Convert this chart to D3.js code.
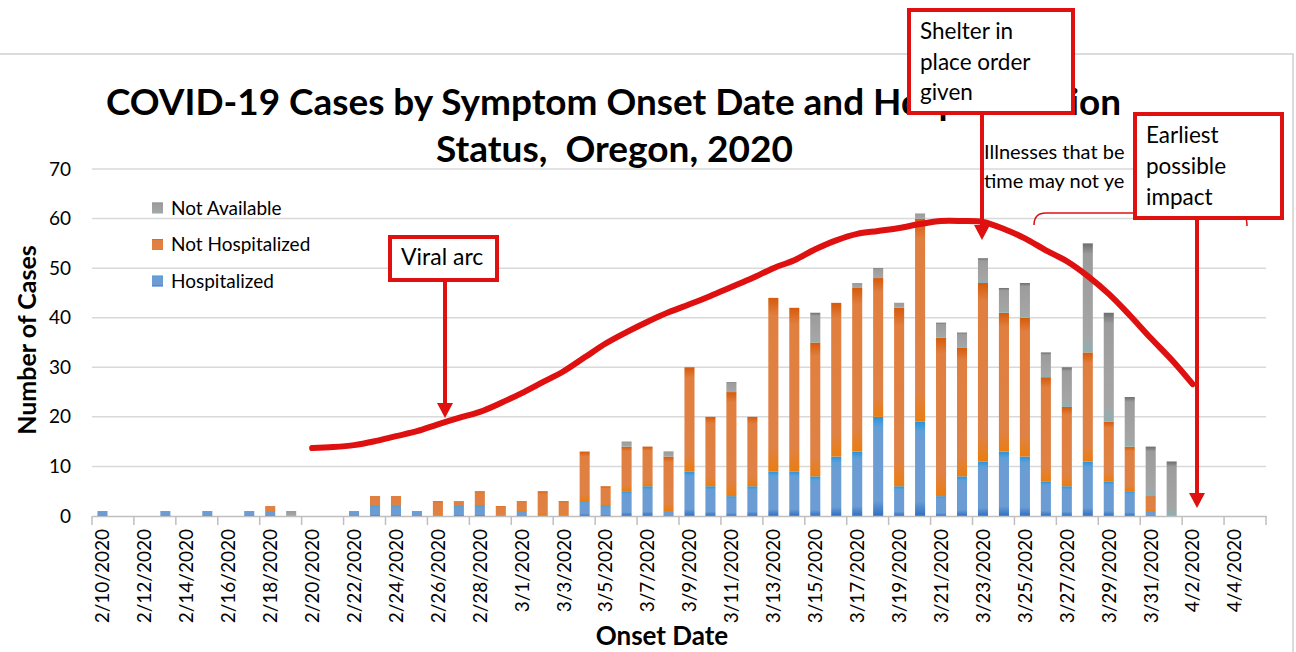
<!doctype html>
<html lang="en">
<head>
<meta charset="UTF-8">
<title>COVID-19 Cases by Symptom Onset Date, Oregon 2020</title>
<script src="https://d3js.org/d3.v7.min.js"></script>
<style>
  body { margin: 0; background: #fff; }
  svg { display: block; font-family: Lato, "Open Sans", sans-serif; }
</style>
</head>
<body>
<svg id="chart" width="1296" height="652"></svg>
<script>
// categories, one per onset day
const dates = [
  "2/10/2020","2/11/2020","2/12/2020","2/13/2020","2/14/2020","2/15/2020","2/16/2020","2/17/2020",
  "2/18/2020","2/19/2020","2/20/2020","2/21/2020","2/22/2020","2/23/2020","2/24/2020","2/25/2020",
  "2/26/2020","2/27/2020","2/28/2020","2/29/2020","3/1/2020","3/2/2020","3/3/2020","3/4/2020",
  "3/5/2020","3/6/2020","3/7/2020","3/8/2020","3/9/2020","3/10/2020","3/11/2020","3/12/2020",
  "3/13/2020","3/14/2020","3/15/2020","3/16/2020","3/17/2020","3/18/2020","3/19/2020","3/20/2020",
  "3/21/2020","3/22/2020","3/23/2020","3/24/2020","3/25/2020","3/26/2020","3/27/2020","3/28/2020",
  "3/29/2020","3/30/2020","3/31/2020","4/1/2020","4/2/2020","4/3/2020","4/4/2020","4/5/2020"
];

const hospitalized = [
  1,0,0,1,0,1,0,1, 1,0,0,0,1,2,2,1, 0,2,2,0,1,0,0,3,
  2,5,6,1,9,6,4,6, 9,9,8,12,13,20,6,19, 4,8,11,13,12,7,6,11,
  7,5,1,0,0,0,0,0
];
const notHospitalized = [
  0,0,0,0,0,0,0,0, 1,0,0,0,0,2,2,0, 3,1,3,2,2,5,3,10,
  4,9,8,11,21,14,21,14, 35,33,27,31,33,28,36,41, 32,26,36,28,28,21,16,22,
  12,9,3,0,0,0,0,0
];
const notAvailable = [
  0,0,0,0,0,0,0,0, 0,1,0,0,0,0,0,0, 0,0,0,0,0,0,0,0,
  0,1,0,1,0,0,2,0, 0,0,6,0,1,2,1,1, 3,3,5,5,7,5,8,22,
  22,10,10,11,0,0,0,0
];

const seriesNames = ["Hospitalized", "Not Hospitalized", "Not Available"];
const yTicks = [0, 10, 20, 30, 40, 50, 60, 70];

// hand drawn "viral arc" annotation (2/20 .. 4/2)
const arcDates = dates.slice(10, 53);
const arcValues = [
  13.7,13.9,14.3,15.1,16.1,17.1,18.5,19.8,21.0,22.8,24.8,27.0,29.2,32.0,34.8,37.1,
  39.2,41.1,42.7,44.4,46.2,48.0,50.0,51.6,53.8,55.6,56.9,57.5,58.1,58.9,59.5,59.5,
  59.3,57.9,56.0,53.6,51.4,48.4,44.8,40.5,35.9,31.5,26.6
];

const svg = d3.select("#chart");
const red = "#df1010";

const x = d3.scaleBand().domain(dates).range([92, 1266]).paddingInner(0.52).paddingOuter(0.26);
const y = d3.scaleLinear().domain([0, 70]).range([516, 169]);

// gradients like the spreadsheet's bar style
const defs = svg.append("defs");
const grads = [
  { id: "gH", stops: [[0, "#2a93da"], [0.1, "#5fa0d8"], [0.2, "#6b9cd3"], [0.85, "#6b9cd3"], [1, "#2e6fc3"]] },
  { id: "gN", stops: [[0, "#d65a0a"], [0.1, "#e07f3f"], [0.85, "#df8246"], [1, "#ea7d10"]] },
  { id: "gA", stops: [[0, "#6e6e6e"], [0.1, "#9c9c9c"], [0.85, "#a5a5a5"], [1, "#8fb0b2"]] }
];
grads.forEach(g => {
  const lg = defs.append("linearGradient").attr("id", g.id)
    .attr("x1", 0).attr("y1", 0).attr("x2", 0).attr("y2", 1);
  g.stops.forEach(s => lg.append("stop").attr("offset", s[0]).attr("stop-color", s[1]));
});
const fills = { "Hospitalized": "url(#gH)", "Not Hospitalized": "url(#gN)", "Not Available": "url(#gA)" };

// chart frame
svg.append("path").attr("d", "M-2,54H1293V660").attr("fill", "none")
  .attr("stroke", "#d0d0d0").attr("stroke-width", 1.5);

// gridlines
svg.append("g").selectAll("line").data(yTicks.filter(t => t > 0)).join("line")
  .attr("x1", 92).attr("x2", 1266)
  .attr("y1", d => y(d)).attr("y2", d => y(d))
  .attr("stroke", "#d9d9d9").attr("stroke-width", 1.5);

// stacked bars
const table = dates.map((d, i) => ({
  date: d,
  "Hospitalized": hospitalized[i],
  "Not Hospitalized": notHospitalized[i],
  "Not Available": notAvailable[i]
}));
const stacked = d3.stack().keys(seriesNames)(table);

svg.append("g").selectAll("g").data(stacked).join("g")
  .attr("fill", d => fills[d.key])
  .selectAll("rect").data(d => d.filter(s => s[1] > s[0])).join("rect")
  .attr("x", d => x(d.data.date))
  .attr("width", x.bandwidth())
  .attr("y", d => y(d[1]))
  .attr("height", d => y(d[0]) - y(d[1]));

// x axis: labels every second day, ticks on category boundaries
const xAxis = svg.append("g").attr("transform", "translate(0,516)")
  .call(d3.axisBottom(x).tickValues(dates.filter((d, i) => i % 2 === 0)).tickSize(0));
xAxis.select(".domain").attr("stroke", "#bfbfbf").attr("stroke-width", 1.5);
xAxis.selectAll("text")
  .attr("transform", "rotate(-90)")
  .attr("text-anchor", "end")
  .attr("x", -13).attr("y", 0).attr("dy", "0.36em")
  .attr("font-size", 19).attr("fill", "#000")
  .style("font-family", "Lato, sans-serif");

const half = x.step() * x.paddingInner() / 2;
const bounds = dates.filter((d, i) => i % 2 === 0).map(d => x(d) - half);
bounds.push(x.range()[1]);
svg.append("g").selectAll("line").data(bounds).join("line")
  .attr("x1", d => d).attr("x2", d => d)
  .attr("y1", 516).attr("y2", 525)
  .attr("stroke", "#bfbfbf").attr("stroke-width", 1.5);

// y axis
const yAxis = svg.append("g").attr("transform", "translate(92,0)")
  .call(d3.axisLeft(y).tickValues(yTicks).tickSize(0).tickPadding(21));
yAxis.select(".domain").remove();
yAxis.selectAll("text").attr("font-size", 19).attr("fill", "#000")
  .style("font-family", "Lato, sans-serif");

// axis titles
svg.append("text")
  .attr("transform", "translate(36,340) rotate(-90)")
  .attr("text-anchor", "middle")
  .attr("font-size", 25).attr("font-weight", 700)
  .text("Number of Cases");

svg.append("text")
  .attr("x", 662).attr("y", 645)
  .attr("text-anchor", "middle")
  .attr("font-size", 26).attr("font-weight", 700)
  .text("Onset Date");

// title
svg.append("text")
  .attr("x", 106).attr("y", 115)
  .attr("font-size", 36).attr("font-weight", 700)
  .attr("textLength", 1015).attr("lengthAdjust", "spacingAndGlyphs")
  .text("COVID-19 Cases by Symptom Onset Date and Hospitalization");
svg.append("text")
  .attr("x", 436).attr("y", 162)
  .attr("font-size", 36).attr("font-weight", 700)
  .attr("textLength", 357).attr("lengthAdjust", "spacingAndGlyphs")
  .style("white-space", "pre")
  .text("Status,  Oregon, 2020");

// legend
const legendItems = ["Not Available", "Not Hospitalized", "Hospitalized"];
const legend = svg.append("g").selectAll("g").data(legendItems).join("g")
  .attr("transform", (d, i) => `translate(152,${208 + i * 36.5})`);
legend.append("rect").attr("x", 0).attr("y", -5.5).attr("width", 11).attr("height", 11)
  .attr("fill", d => fills[d]);
legend.append("text").attr("x", 19).attr("y", 0).attr("dy", "0.35em")
  .attr("font-size", 19).text(d => d);

// viral arc
svg.append("path")
  .datum(arcDates.map((d, i) => [x(d) + x.bandwidth() / 2, y(arcValues[i])]))
  .attr("d", d3.line().curve(d3.curveCatmullRom))
  .attr("fill", "none").attr("stroke", red)
  .attr("stroke-width", 6).attr("stroke-linecap", "round");

// annotation helpers
function arrow(x0, y0, y1) {
  svg.append("line").attr("x1", x0).attr("x2", x0).attr("y1", y0).attr("y2", y1 - 12)
    .attr("stroke", red).attr("stroke-width", 4);
  svg.append("path").attr("d", `M${x0 - 8},${y1 - 15}L${x0 + 8},${y1 - 15}L${x0},${y1}Z`)
    .attr("fill", red);
}
function box(x0, y0, w, h, lines, fs, lh, tx, ty) {
  svg.append("rect").attr("x", x0).attr("y", y0).attr("width", w).attr("height", h)
    .attr("fill", "#fff").attr("stroke", red).attr("stroke-width", 4);
  svg.append("text").attr("font-size", fs)
    .selectAll("tspan").data(lines).join("tspan")
    .attr("x", tx).attr("y", (d, i) => ty + i * lh).text(d => d);
}

// illnesses note, cut off by the box next to it, and its brace
svg.append("text").attr("font-size", 20)
  .selectAll("tspan").data(["Illnesses that be", "time may not ye"]).join("tspan")
  .attr("x", 984).attr("y", (d, i) => 159 + i * 28.5).text(d => d);
svg.append("path")
  .attr("d", "M1034,225 Q1034,213 1046,213 L1238,213 Q1247,213 1247,226")
  .attr("fill", "none").attr("stroke", red).attr("stroke-width", 1.5);

box(909, 10, 164, 103, ["Shelter in", "place order", "given"], 22.5, 30.5, 920, 39);
arrow(982, 113, 240);

box(1135, 114, 147, 104, ["Earliest", "possible", "impact"], 22.5, 31, 1146, 143);
arrow(1197, 218, 508);

box(390, 237, 107, 43, ["Viral arc"], 23, 0, 401, 265);
arrow(445, 280, 418);
</script>
</body>
</html>
